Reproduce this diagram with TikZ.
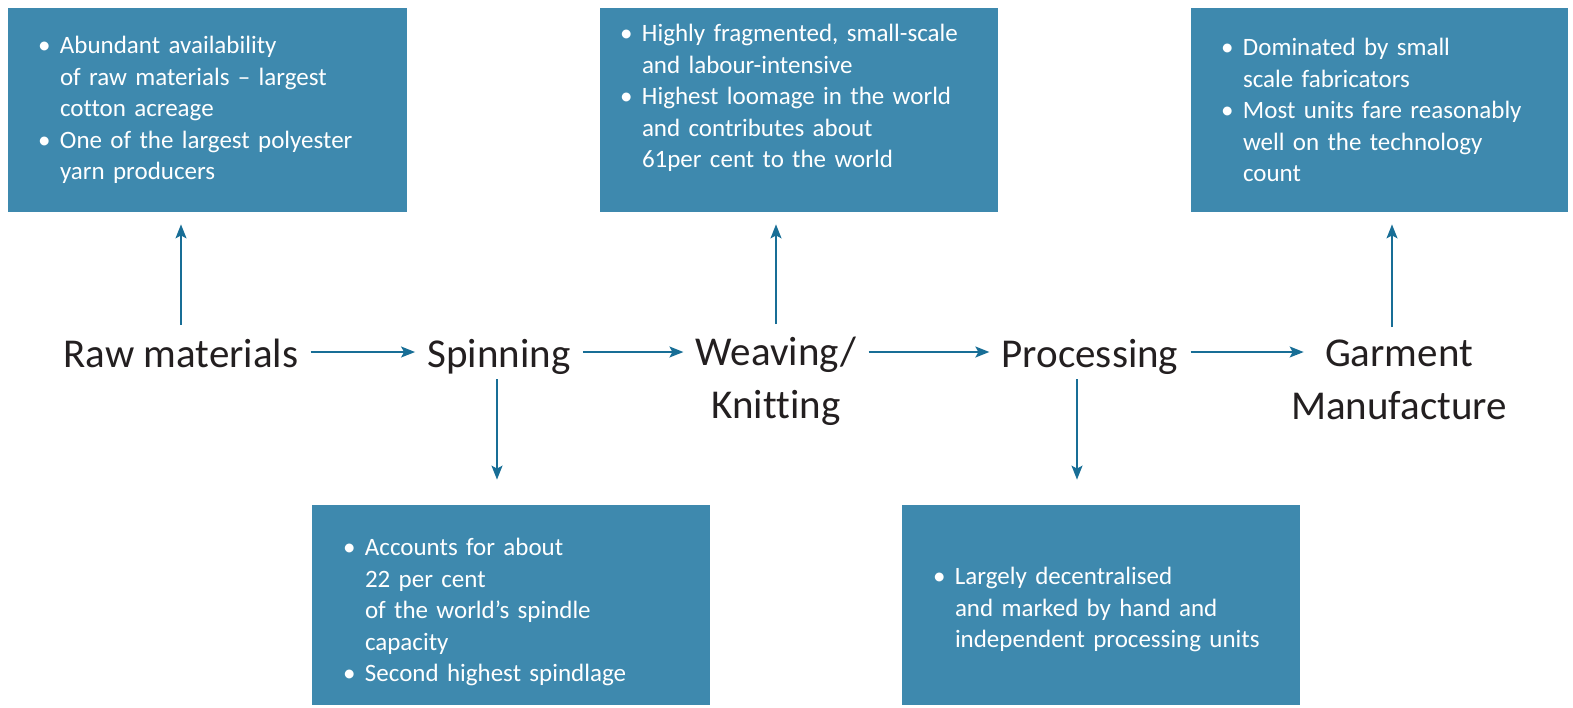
\documentclass[tikz,border=0pt]{standalone}
\usepackage{fontspec}
\setmainfont{Carlito}[Ligatures=NoCommon]
\usetikzlibrary{arrows.meta, positioning, calc}

\definecolor{boxblue}{RGB}{62, 137, 174}
\definecolor{arrowblue}{RGB}{24, 110, 150}
\definecolor{labelgrey}{RGB}{35, 31, 32}

\newcommand{\itm}{\makebox[11pt][l]{\textbullet}}
\newcommand{\ind}{\hspace*{11pt}}

\begin{document}
\begin{tikzpicture}[x=0.5pt, y=-0.5pt,
  infobox/.style={fill=boxblue, text=white, inner ysep=0pt, inner xsep=15pt,
    align=left, font=\fontsize{12.5}{15.75}\selectfont},
  stage/.style={text=labelgrey, inner sep=6pt, align=center,
    font=\fontsize{20.5}{26.5}\selectfont},
  flow/.style={-{Stealth[length=7pt, width=5.5pt, inset=1.5pt]}, arrowblue, line width=0.75pt}]
  \useasboundingbox (0,0) rectangle (1573,707);

  % Stages
  \node[stage, anchor=base, text height=15pt, text depth=0pt] (raw) at (181, 367) {Raw materials};
  \node[stage, anchor=base, text height=15pt, text depth=0pt] (spin) at (499, 367) {Spinning};
  \node[stage, anchor=base] (weave) at (776, 418) {Weaving/\\Knitting};
  \node[stage, anchor=base, text height=15pt, text depth=0pt] (proc) at (1090, 367) {Processing};
  \node[stage, anchor=base] (garment) at (1399, 419) {Garment\\Manufacture};

  % Boxes
  \node[infobox, minimum width=199.5pt, minimum height=102pt, text width=169.5pt] (rawbox) at (207.5, 110) {
    \itm Abundant availability\\
    \ind of raw materials -- largest\\
    \ind cotton acreage\\
    \itm One of the largest polyester\\
    \ind yarn producers};
  \node[infobox, inner xsep=10pt, minimum width=199pt, minimum height=102pt, text width=179pt] (weavebox) at (799, 110) {
    \itm Highly fragmented, small-scale\\
    \ind and labour-intensive\\
    \itm Highest loomage in the world\\
    \ind and contributes about\\
    \ind 61per cent to the world\rule[-14pt]{0pt}{14pt}};
  \node[infobox, minimum width=188.5pt, minimum height=102pt, text width=158.5pt] (garmentbox) at (1379.5, 110) {
    \itm Dominated by small\\
    \ind scale fabricators\\
    \itm Most units fare reasonably\\
    \ind well on the technology\\
    \ind count};
  \node[infobox, inner xsep=15.5pt, minimum width=199pt, minimum height=100pt, text width=168pt] (spinbox) at (511, 605) {
    \itm\rule{0pt}{16pt}Accounts for about\\
    \ind 22 per cent\\
    \ind of the world’s spindle\\
    \ind capacity\\
    \itm Second highest spindlage};
  \node[infobox, inner xsep=15.5pt, minimum width=199pt, minimum height=100pt, text width=168pt] (procbox) at (1101, 605) {
    \itm\rule{0pt}{13.5pt}Largely decentralised\\
    \ind and marked by hand and\\
    \ind independent processing units};

  % Flow
  \draw[flow] (raw.east) -- (spin.west);
  \draw[flow] (spin.east) -- (weave.west |- spin.east);
  \draw[flow] (weave.east |- proc.west) -- (proc.west);
  \draw[flow, shorten >=-12.5pt] (proc.east) -- (garment.west |- proc.east);

  % Facts
  \draw[flow, shorten >=6pt] (raw.north) -- (raw.north |- rawbox.south);
  \draw[flow, shorten >=6pt] (weave.north) -- (weave.north |- weavebox.south);
  \draw[flow, shorten >=6pt] ([xshift=-3.5pt]garment.north) -- ([xshift=-3.5pt]garment.north |- garmentbox.south);
  \draw[flow, shorten >=12.5pt] ([xshift=-1pt]spin.south) -- ([xshift=-1pt]spin.south |- spinbox.north);
  \draw[flow, shorten >=12.5pt] ([xshift=-6.5pt]proc.south) -- ([xshift=-6.5pt]proc.south |- procbox.north);
\end{tikzpicture}
\end{document}
